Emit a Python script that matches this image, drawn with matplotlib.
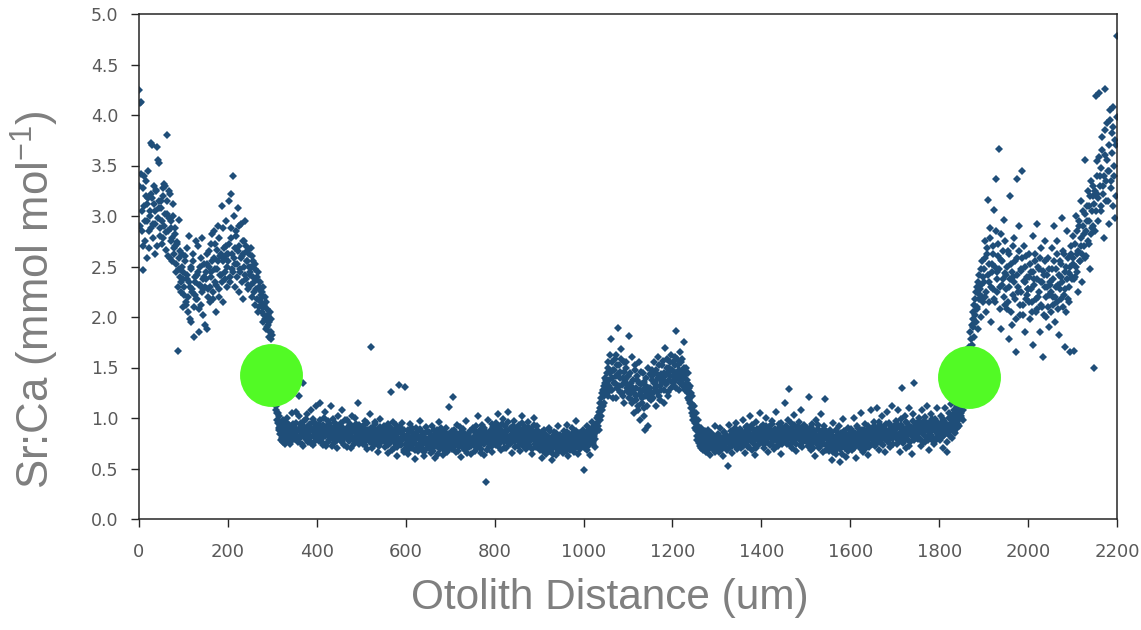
import matplotlib
matplotlib.use("Agg")
import matplotlib.pyplot as plt
import numpy as np

# ---------------- data ----------------
sample_spacing_um = 2  # laser transect sample spacing; two interleaved passes
# pass A: samples at 0, 2, 4, ... 2200 um
sr_ca_a = [
    4.25, 4.12, 3.42, 2.85, 3.28, 2.47, 3.10, 2.75, 3.35, 2.95, 3.18, 2.68, 3.05, 2.88, 3.22, 3.70, 2.92, 3.12, 2.62, 3.25, 3.68, 2.98, 3.15, 3.52, 2.80,
    3.08, 2.72, 3.28, 2.90, 3.30, 2.66, 3.02, 3.80, 2.85, 3.25, 2.58, 2.95, 2.78, 3.12, 2.62, 2.70, 2.88, 2.52, 2.74, 1.66, 2.96, 2.40, 2.35, 2.62, 2.10,
    2.45, 2.22, 2.60, 2.15, 2.38, 2.05, 2.80, 2.30, 2.48, 1.95, 2.25, 2.55, 1.80, 2.35, 2.18, 2.42, 2.70, 2.08, 2.32, 2.50, 2.12, 2.78, 2.28, 2.40, 1.92,
    2.38, 1.88, 2.52, 2.20, 2.65, 2.30, 2.45, 2.82, 2.18, 2.58, 2.35, 2.72, 2.05, 2.48, 2.90, 2.28, 2.60, 2.42, 3.10, 2.55, 2.15, 2.68, 2.38, 2.95, 2.50,
    2.62, 3.15, 2.40, 2.78, 3.22, 2.48, 3.40, 2.58, 2.30, 2.85, 2.52, 3.08, 2.25, 2.70, 2.45, 2.92, 2.60, 2.18, 2.75, 2.95, 2.38, 2.55, 2.65, 2.28, 2.50,
    2.42, 2.68, 2.20, 2.55, 2.35, 2.12, 2.48, 2.28, 2.40, 2.05, 2.30, 2.18, 2.15, 2.25, 1.95, 2.10, 2.02, 2.20, 1.88, 2.00, 1.92, 1.80, 2.05, 1.85, 1.78,
    1.55, 1.45, 1.30, 1.20, 1.12, 1.05, 0.95, 1.02, 0.88, 0.92, 0.78, 0.85, 0.98, 0.82, 0.74, 0.90, 0.86, 1.00, 0.80, 0.93, 0.76, 0.88, 1.05, 0.84, 0.79,
    0.90, 0.84, 1.06, 0.78, 0.88, 1.22, 0.82, 0.95, 0.74, 0.86, 1.35, 0.91, 0.80, 0.99, 0.85, 0.76, 0.93, 0.87, 1.08, 0.81, 0.89, 0.73, 0.96, 0.84, 1.12,
    0.88, 0.79, 0.94, 0.83, 1.15, 0.90, 0.76, 0.86, 1.00, 0.82, 0.72, 0.92, 0.85, 0.97, 0.78, 0.89, 1.12, 0.80, 0.87, 0.75, 0.95, 0.84, 0.91, 0.70, 1.02,
    0.86, 0.93, 0.77, 1.08, 0.84, 0.90, 0.73, 0.88, 0.81, 0.98, 0.79, 0.87, 0.92, 0.70, 0.85, 1.02, 0.80, 0.89, 0.76, 0.94, 0.83, 1.15, 0.88, 0.74, 0.82,
    0.80, 0.91, 0.74, 0.86, 0.97, 0.78, 0.84, 0.69, 0.88, 0.82, 1.04, 1.70, 0.77, 0.90, 0.73, 0.85, 0.94, 0.79, 0.87, 0.66, 0.83, 0.99, 0.76, 0.89, 0.81,
    0.78, 0.92, 0.71, 0.84, 0.88, 0.65, 0.81, 0.75, 1.26, 0.86, 0.79, 0.96, 0.70, 0.83, 0.90, 0.62, 0.80, 1.33, 0.77, 0.87, 0.73, 0.95, 0.82, 0.68, 1.31,
    0.79, 0.72, 0.88, 0.64, 0.81, 0.94, 0.75, 0.70, 0.85, 0.78, 0.59, 0.90, 0.74, 0.83, 0.67, 0.80, 0.97, 0.72, 0.86, 0.76, 0.62, 0.84, 0.79, 0.91, 0.70,
    0.73, 0.86, 0.78, 0.65, 0.92, 0.77, 0.71, 0.83, 0.60, 0.80, 0.88, 0.74, 0.96, 0.69, 0.79, 0.85, 0.72, 0.63, 0.82, 0.76, 0.90, 0.68, 0.81, 0.75, 1.11,
    0.78, 0.70, 0.87, 1.21, 0.74, 0.83, 0.66, 0.80, 0.93, 0.76, 0.72, 0.85, 0.61, 0.79, 0.89, 0.73, 0.82, 0.68, 0.97, 0.77, 0.84, 0.71, 0.80, 0.64, 0.88,
    0.75, 0.90, 0.81, 0.67, 0.86, 0.79, 1.02, 0.72, 0.84, 0.77, 0.69, 0.93, 0.80, 0.63, 0.87, 0.37, 0.76, 0.83, 0.98, 0.71, 0.85, 0.78, 0.66, 0.91, 0.74,
    0.82, 0.95, 0.73, 0.86, 1.04, 0.78, 0.89, 0.68, 0.84, 0.99, 0.76, 0.81, 0.92, 0.70, 0.87, 1.06, 0.79, 0.74, 0.90, 0.83, 0.65, 0.88, 0.97, 0.77, 0.85,
    0.80, 0.72, 0.93, 0.84, 0.67, 0.88, 1.02, 0.76, 0.82, 0.91, 0.69, 0.86, 0.78, 0.96, 0.73, 0.83, 0.89, 0.64, 0.81, 1.00, 0.77, 0.85, 0.71, 0.92, 0.79,
    0.75, 0.68, 0.84, 0.60, 0.79, 0.88, 0.71, 0.77, 0.64, 0.82, 0.73, 0.90, 0.67, 0.78, 0.58, 0.81, 0.70, 0.86, 0.74, 0.63, 0.79, 0.92, 0.69, 0.76, 0.83,
    0.72, 0.80, 0.65, 0.87, 0.76, 0.70, 0.93, 0.62, 0.78, 0.84, 0.68, 0.74, 0.90, 0.79, 0.66, 0.82, 0.73, 0.97, 0.77, 0.64, 0.85, 0.71, 0.80, 0.75, 0.88,
    0.78, 0.49, 0.70, 0.85, 0.92, 0.74, 0.82, 0.63, 0.88, 0.79, 0.96, 0.76, 0.84, 0.71, 0.90, 0.95, 1.02, 0.88, 1.10, 0.98, 1.20, 1.08, 1.28, 1.15, 1.35,
    1.30, 1.45, 1.22, 1.55, 1.38, 1.62, 1.78, 1.28, 1.48, 1.35, 1.58, 1.20, 1.42, 1.52, 1.89, 1.32, 1.46, 1.68, 1.25, 1.40, 1.55, 1.15, 1.36, 1.50, 1.27,
    1.42, 1.81, 1.24, 1.35, 1.60, 1.18, 1.30, 1.05, 1.48, 1.22, 1.38, 1.12, 1.55, 1.28, 0.98, 1.34, 1.20, 1.45, 1.10, 0.88, 1.32, 1.25, 1.50, 0.92, 1.27,
    1.30, 1.18, 1.42, 1.25, 1.55, 1.36, 1.12, 1.48, 1.32, 1.60, 1.22, 1.40, 1.28, 1.52, 1.38, 1.15, 1.45, 1.69, 1.34, 1.58, 1.26, 1.50, 1.42, 1.62, 1.36,
    1.48, 1.55, 1.32, 1.60, 1.86, 1.40, 1.52, 1.28, 1.65, 1.44, 1.36, 1.58, 1.42, 1.75, 1.30, 1.50, 1.38, 1.25, 1.45, 1.18, 1.32, 1.10, 1.22, 1.02, 1.12,
    0.95, 1.05, 0.88, 0.78, 0.98, 0.82, 0.72, 0.90, 0.76, 0.68, 0.85, 0.74, 0.80, 0.66, 0.77, 0.88, 0.71, 0.63, 0.79, 0.73, 0.84, 0.69, 0.76, 0.92, 0.70,
    0.72, 0.84, 0.66, 0.79, 0.90, 0.70, 0.76, 0.62, 0.86, 0.74, 0.81, 0.68, 0.52, 0.78, 0.93, 0.71, 0.83, 0.65, 0.77, 0.88, 0.73, 0.80, 0.95, 0.69, 0.82,
    0.76, 0.89, 0.70, 0.84, 0.98, 0.74, 0.81, 0.65, 0.87, 0.92, 0.72, 0.79, 1.02, 0.83, 0.68, 0.90, 0.77, 0.85, 0.63, 0.96, 0.80, 0.73, 0.88, 1.05, 0.78,
    0.84, 0.76, 0.93, 0.70, 0.88, 1.00, 0.79, 0.86, 0.66, 0.91, 0.81, 0.74, 0.97, 0.85, 0.69, 0.89, 0.78, 1.06, 0.83, 0.72, 0.94, 0.87, 0.64, 0.80, 0.90,
    0.86, 0.79, 1.15, 0.92, 0.74, 0.84, 1.29, 0.81, 0.95, 0.70, 0.88, 0.77, 1.03, 0.85, 0.67, 0.91, 0.80, 0.96, 0.73, 0.87, 1.08, 0.82, 0.76, 0.93, 0.84,
    0.78, 0.90, 0.72, 0.85, 1.21, 0.81, 0.68, 0.94, 0.76, 0.87, 0.62, 0.83, 0.98, 0.74, 0.89, 0.70, 0.80, 1.04, 0.77, 0.66, 0.92, 0.84, 1.19, 0.73, 0.86,
    0.79, 0.67, 0.88, 0.74, 0.58, 0.83, 0.95, 0.71, 0.80, 0.64, 0.86, 0.76, 0.92, 0.69, 0.56, 0.82, 0.75, 0.99, 0.72, 0.85, 0.61, 0.78, 0.90, 0.70, 0.81,
    0.76, 0.89, 0.68, 0.84, 1.00, 0.73, 0.81, 0.60, 0.92, 0.79, 0.86, 0.71, 1.05, 0.83, 0.66, 0.88, 0.77, 0.94, 0.70, 0.85, 0.63, 0.90, 0.80, 1.08, 0.74,
    0.88, 0.79, 0.96, 0.72, 0.90, 1.10, 0.83, 0.68, 0.93, 0.86, 0.75, 1.02, 0.81, 0.91, 0.66, 0.87, 1.06, 0.78, 0.95, 0.84, 0.71, 0.89, 1.12, 0.80, 0.92,
    0.85, 0.97, 0.74, 0.90, 1.08, 0.81, 0.66, 0.93, 1.30, 0.86, 0.78, 1.02, 0.89, 0.70, 0.95, 0.83, 1.10, 0.76, 0.91, 0.64, 0.88, 1.04, 1.35, 0.82, 0.94,
    0.87, 0.79, 1.00, 0.93, 0.72, 0.90, 1.08, 0.84, 0.97, 0.76, 0.89, 1.12, 0.82, 0.68, 0.95, 0.86, 1.04, 0.78, 0.92, 0.74, 0.99, 0.88, 1.10, 0.81, 0.94,
    0.92, 0.78, 1.02, 0.86, 0.70, 0.97, 1.10, 0.84, 0.94, 0.66, 0.90, 1.05, 0.88, 1.14, 0.80, 0.98, 0.92, 1.08, 0.85, 1.00, 1.12, 0.94, 1.06, 1.18, 1.02,
    1.05, 1.20, 0.98, 1.28, 1.40, 1.15, 1.50, 1.62, 1.35, 1.70, 1.85, 1.58, 1.92, 2.05, 1.80, 2.18, 1.95, 2.30, 2.10, 1.88, 2.42, 2.22, 2.00, 2.55, 2.15,
    2.48, 2.20, 2.75, 2.05, 2.62, 3.16, 2.35, 2.88, 1.95, 2.52, 2.28, 2.70, 3.06, 2.15, 3.37, 2.45, 2.60, 3.66, 2.30, 2.82, 1.88, 2.55, 2.38, 2.96, 2.12,
    2.42, 2.08, 2.65, 1.78, 2.30, 3.20, 2.52, 1.92, 2.40, 2.78, 2.18, 1.65, 2.58, 3.37, 2.25, 2.90, 2.02, 2.46, 3.45, 2.12, 2.70, 1.85, 2.35, 2.60, 2.22,
    2.28, 2.62, 1.98, 2.45, 2.15, 2.80, 1.72, 2.38, 2.55, 2.05, 2.92, 2.20, 2.48, 1.85, 2.35, 2.68, 2.10, 1.60, 2.42, 2.75, 2.00, 2.30, 2.58, 1.90, 2.22,
    2.35, 2.05, 2.68, 2.20, 2.90, 1.95, 2.48, 2.15, 2.75, 2.32, 1.82, 2.55, 2.40, 2.98, 2.10, 2.62, 2.28, 1.70, 2.50, 2.85, 2.18, 2.44, 1.65, 2.70, 2.38,
    2.52, 2.80, 1.66, 2.40, 3.00, 2.62, 2.25, 2.90, 2.55, 3.15, 2.70, 2.35, 3.05, 2.82, 3.55, 2.60, 2.95, 3.25, 2.72, 3.10, 2.48, 3.35, 2.88, 3.20, 1.50,
    2.85, 4.19, 3.22, 3.54, 2.95, 4.22, 3.40, 3.05, 3.78, 3.30, 2.78, 3.60, 4.26, 3.15, 3.92, 3.45, 2.92, 4.05, 3.35, 3.82, 3.10, 4.08, 3.50, 2.98, 3.70,
    4.78,
]
# pass B: samples at 1, 3, 5, ... 2199 um
sr_ca_b = [
    3.30, 2.90, 4.13, 3.05, 2.70, 3.40, 2.95, 3.20, 2.58, 3.12, 3.45, 2.85, 3.00, 3.72, 3.18, 2.78, 3.30, 3.05, 2.92, 3.26, 2.70, 3.55, 3.08, 2.88, 3.15,
    2.95, 3.20, 2.78, 3.32, 3.02, 2.84, 3.15, 2.60, 2.98, 3.22, 2.75, 2.88, 2.55, 3.00, 2.68, 2.82, 2.45, 2.72, 2.30, 2.58, 2.48, 2.65, 2.25, 2.50, 2.38,
    2.30, 2.55, 2.12, 2.42, 2.68, 2.20, 2.35, 1.98, 2.50, 2.28, 2.62, 2.10, 2.40, 2.22, 2.75, 2.18, 2.45, 1.85, 2.32, 2.58, 2.25, 2.38, 2.02, 2.52, 2.30,
    2.45, 2.62, 2.28, 2.50, 2.15, 2.72, 2.40, 2.55, 2.25, 2.85, 2.48, 2.32, 2.66, 2.55, 2.20, 2.78, 2.42, 2.62, 2.35, 2.88, 2.58, 2.45, 2.70, 2.30, 2.62,
    2.55, 2.72, 2.35, 2.88, 2.62, 2.45, 3.00, 2.68, 2.52, 2.80, 2.40, 2.65, 2.90, 2.48, 2.58, 2.35, 2.75, 2.62, 2.50, 2.42, 2.70, 2.55, 2.32, 2.62, 2.45,
    2.50, 2.32, 2.60, 2.40, 2.25, 2.52, 2.38, 2.18, 2.45, 2.28, 2.10, 2.35, 2.22, 2.05, 2.30, 2.12, 1.98, 2.15, 2.08, 1.90, 2.02, 1.95, 1.85, 1.98, 1.82,
    1.50, 1.38, 1.25, 1.15, 1.08, 0.98, 1.05, 0.90, 0.84, 0.96, 0.80, 0.88, 0.76, 0.92, 0.85, 0.78, 0.95, 0.82, 0.88, 0.74, 0.91, 0.83, 0.79, 0.94, 0.86,
    0.82, 0.95, 0.87, 0.76, 1.02, 0.89, 0.80, 0.93, 0.85, 0.72, 0.97, 0.83, 0.90, 0.78, 1.04, 0.86, 0.81, 0.94, 0.75, 0.88, 0.99, 0.82, 0.91, 0.77, 0.86,
    0.84, 0.91, 0.77, 0.98, 0.86, 0.80, 0.93, 0.73, 0.89, 1.06, 0.83, 0.88, 0.76, 0.95, 0.81, 0.91, 0.85, 0.72, 0.99, 0.87, 0.80, 0.93, 0.78, 0.88, 0.84,
    0.81, 0.89, 0.95, 0.76, 0.86, 0.80, 0.98, 0.84, 0.71, 0.90, 0.83, 0.77, 0.94, 0.87, 0.80, 0.91, 0.74, 0.86, 1.00, 0.82, 0.88, 0.78, 0.93, 0.85, 0.76,
    0.85, 0.78, 0.92, 0.82, 0.73, 0.88, 0.95, 0.80, 0.86, 0.76, 0.90, 0.83, 0.70, 0.87, 0.81, 0.96, 0.75, 0.84, 0.89, 0.79, 0.72, 0.91, 0.85, 0.77, 0.88,
    0.83, 0.76, 0.89, 0.80, 0.94, 0.73, 0.85, 0.78, 0.90, 0.68, 0.82, 0.87, 0.75, 0.93, 0.80, 0.71, 0.86, 0.78, 0.91, 0.74, 0.84, 0.79, 0.66, 0.88, 0.81,
    0.74, 0.83, 0.77, 0.69, 0.87, 0.80, 0.73, 0.90, 0.76, 0.84, 0.68, 0.79, 0.86, 0.72, 0.81, 0.75, 0.89, 0.70, 0.78, 0.83, 0.66, 0.80, 0.74, 0.87, 0.77,
    0.79, 0.70, 0.84, 0.75, 0.81, 0.67, 0.88, 0.76, 0.72, 0.85, 0.78, 0.64, 0.82, 0.74, 0.90, 0.77, 0.69, 0.80, 0.86, 0.73, 0.79, 0.66, 0.84, 0.78, 0.71,
    0.75, 0.82, 0.69, 0.79, 0.88, 0.72, 0.77, 0.84, 0.67, 0.80, 0.75, 0.91, 0.73, 0.78, 0.70, 0.85, 0.76, 0.81, 0.65, 0.83, 0.74, 0.79, 0.87, 0.72, 0.78,
    0.80, 0.73, 0.86, 0.77, 0.92, 0.70, 0.82, 0.76, 0.88, 0.65, 0.79, 0.84, 0.74, 0.90, 0.78, 0.83, 0.68, 0.81, 0.75, 0.87, 0.80, 0.72, 0.94, 0.79, 0.84,
    0.78, 0.87, 0.82, 0.72, 0.91, 0.80, 0.75, 0.86, 0.94, 0.79, 0.70, 0.84, 0.88, 0.77, 0.96, 0.81, 0.74, 0.89, 0.83, 0.76, 0.92, 0.80, 0.71, 0.86, 0.90,
    0.84, 0.78, 0.89, 0.74, 0.82, 0.95, 0.79, 0.86, 0.71, 0.88, 0.80, 0.75, 0.91, 0.83, 0.77, 0.85, 0.69, 0.87, 0.81, 0.93, 0.74, 0.80, 0.88, 0.76, 0.84,
    0.71, 0.80, 0.74, 0.86, 0.67, 0.78, 0.73, 0.83, 0.76, 0.69, 0.81, 0.75, 0.87, 0.72, 0.79, 0.64, 0.77, 0.82, 0.70, 0.85, 0.74, 0.66, 0.80, 0.73, 0.78,
    0.77, 0.69, 0.83, 0.74, 0.80, 0.67, 0.86, 0.72, 0.76, 0.81, 0.70, 0.84, 0.75, 0.68, 0.79, 0.73, 0.87, 0.71, 0.82, 0.76, 0.69, 0.80, 0.74, 0.85, 0.78,
    0.72, 0.81, 0.76, 0.68, 0.87, 0.79, 0.73, 0.84, 0.77, 0.90, 0.74, 0.82, 0.79, 0.93, 0.86, 1.00, 0.92, 1.06, 1.15, 1.02, 1.25, 1.12, 1.32, 1.22, 1.40,
    1.38, 1.25, 1.50, 1.32, 1.45, 1.28, 1.55, 1.40, 1.20, 1.48, 1.35, 1.62, 1.30, 1.44, 1.52, 1.26, 1.40, 1.58, 1.33, 1.22, 1.46, 1.38, 1.55, 1.30, 1.42,
    1.32, 1.20, 1.45, 1.28, 1.15, 1.38, 1.25, 1.52, 1.18, 1.30, 1.42, 1.08, 1.35, 1.24, 1.46, 1.15, 1.28, 1.02, 1.36, 1.22, 1.40, 1.12, 1.30, 1.20, 1.44,
    1.25, 1.38, 1.48, 1.20, 1.35, 1.30, 1.45, 1.26, 1.40, 1.52, 1.32, 1.18, 1.44, 1.36, 1.56, 1.28, 1.42, 1.34, 1.50, 1.22, 1.46, 1.38, 1.55, 1.30, 1.48,
    1.42, 1.36, 1.52, 1.45, 1.30, 1.58, 1.40, 1.48, 1.35, 1.55, 1.46, 1.32, 1.50, 1.40, 1.28, 1.44, 1.35, 1.20, 1.30, 1.15, 1.25, 1.05, 1.14, 0.98, 1.06,
    0.90, 0.99, 0.82, 0.92, 0.75, 0.86, 0.80, 0.70, 0.83, 0.74, 0.79, 0.87, 0.72, 0.76, 0.82, 0.68, 0.78, 0.73, 0.85, 0.70, 0.77, 0.81, 0.66, 0.74, 0.79,
    0.78, 0.70, 0.82, 0.75, 0.68, 0.80, 0.73, 0.86, 0.77, 0.71, 0.83, 0.76, 0.69, 0.81, 0.74, 0.87, 0.78, 0.72, 0.84, 0.76, 0.90, 0.79, 0.73, 0.85, 0.77,
    0.82, 0.75, 0.87, 0.79, 0.72, 0.85, 0.80, 0.91, 0.76, 0.83, 0.71, 0.88, 0.81, 0.77, 0.93, 0.79, 0.74, 0.86, 0.82, 0.70, 0.89, 0.78, 0.84, 0.75, 0.91,
    0.80, 0.88, 0.74, 0.85, 0.79, 0.92, 0.76, 0.83, 0.89, 0.73, 0.86, 0.80, 0.94, 0.77, 0.84, 0.71, 0.87, 0.82, 0.76, 0.90, 0.79, 0.85, 0.95, 0.74, 0.83,
    0.81, 0.89, 0.76, 0.84, 0.98, 0.79, 0.87, 0.73, 0.90, 0.82, 0.77, 0.93, 0.86, 0.80, 0.74, 0.88, 0.83, 0.91, 0.78, 0.85, 0.71, 0.89, 0.80, 0.86, 0.79,
    0.83, 0.76, 0.88, 0.80, 0.73, 0.91, 0.78, 0.85, 0.70, 0.82, 0.87, 0.75, 0.80, 0.93, 0.77, 0.84, 0.72, 0.86, 0.79, 0.74, 0.89, 0.81, 0.68, 0.83, 0.78,
    0.74, 0.82, 0.70, 0.86, 0.77, 0.66, 0.80, 0.73, 0.88, 0.76, 0.69, 0.83, 0.78, 0.72, 0.85, 0.64, 0.79, 0.74, 0.87, 0.70, 0.81, 0.76, 0.67, 0.84, 0.75,
    0.81, 0.73, 0.87, 0.78, 0.70, 0.85, 0.80, 0.75, 0.90, 0.72, 0.83, 0.77, 0.69, 0.88, 0.79, 0.74, 0.86, 0.81, 0.76, 0.92, 0.78, 0.71, 0.84, 0.80, 0.87,
    0.83, 0.92, 0.78, 0.86, 0.75, 0.89, 0.81, 0.96, 0.77, 0.85, 0.90, 0.73, 0.87, 0.82, 0.79, 0.94, 0.84, 0.76, 0.88, 0.93, 0.80, 0.86, 0.74, 0.91, 0.83,
    0.88, 0.80, 0.94, 0.83, 0.77, 0.91, 0.86, 0.99, 0.81, 0.75, 0.89, 0.84, 0.96, 0.79, 0.87, 0.92, 0.72, 0.85, 0.90, 0.82, 0.97, 0.78, 0.86, 0.93, 0.80,
    0.91, 0.84, 0.97, 0.79, 0.88, 0.93, 0.76, 0.86, 1.01, 0.82, 0.90, 0.95, 0.78, 0.87, 0.92, 0.83, 0.99, 0.80, 0.89, 0.94, 0.77, 0.86, 0.96, 0.84, 0.90,
    0.86, 0.95, 0.80, 0.91, 0.99, 0.83, 0.88, 0.94, 0.76, 0.92, 0.86, 1.00, 0.82, 0.95, 0.89, 1.03, 0.87, 0.93, 1.06, 0.90, 0.97, 1.02, 0.92, 1.08, 1.00,
    1.12, 1.08, 1.25, 1.18, 1.32, 1.45, 1.38, 1.55, 1.48, 1.65, 1.78, 1.72, 1.90, 1.98, 2.12, 2.02, 2.25, 2.08, 2.35, 2.18, 2.28, 2.48, 2.32, 2.20, 2.40,
    2.35, 2.58, 2.25, 2.68, 2.42, 2.15, 2.52, 2.78, 2.30, 2.45, 2.62, 2.18, 2.50, 2.85, 2.38, 2.25, 2.72, 2.48, 2.08, 2.56, 2.32, 2.65, 2.20, 2.44, 2.75,
    2.28, 2.50, 2.15, 2.62, 2.38, 2.05, 2.45, 2.70, 2.22, 2.35, 2.55, 1.98, 2.42, 2.30, 2.65, 2.12, 2.48, 2.25, 2.58, 2.02, 2.36, 2.50, 2.18, 2.40, 2.28,
    2.40, 2.15, 2.52, 2.28, 2.05, 2.45, 2.32, 2.62, 2.18, 2.38, 2.08, 2.50, 2.25, 2.58, 2.12, 2.35, 2.46, 2.02, 2.30, 2.55, 2.20, 2.42, 2.10, 2.48, 2.32,
    2.25, 2.48, 2.12, 2.38, 2.55, 2.20, 2.30, 2.62, 2.08, 2.42, 2.28, 2.52, 2.18, 2.35, 2.65, 2.22, 2.45, 2.05, 2.38, 2.58, 2.30, 2.15, 2.50, 2.62, 2.40,
    2.58, 2.38, 2.72, 2.50, 2.85, 2.45, 2.65, 2.95, 2.55, 2.78, 2.62, 2.90, 2.70, 3.02, 2.58, 2.85, 3.10, 2.75, 2.95, 3.20, 2.82, 3.05, 3.30, 2.90, 3.12,
    3.25, 3.05, 3.40, 3.18, 3.58, 3.30, 3.10, 3.48, 3.65, 3.22, 3.40, 3.85, 3.35, 3.55, 3.15, 3.70, 3.45, 3.95, 3.28, 3.62, 3.88, 3.40, 3.75, 3.20, 3.98,
]
distance_a_um = np.arange(len(sr_ca_a)) * sample_spacing_um
distance_b_um = np.arange(len(sr_ca_b)) * sample_spacing_um + 1

# highlighted transition points (green circles)
marker_x = [297, 1867]
marker_y = [1.43, 1.41]

x_ticks = list(range(0, 2201, 200))
y_ticks = [0.0, 0.5, 1.0, 1.5, 2.0, 2.5, 3.0, 3.5, 4.0, 4.5, 5.0]

# ---------------- figure ----------------
W, H = 1141, 630
fig = plt.figure(figsize=(W / 100, H / 100), dpi=100)
ax = fig.add_axes([139 / W, 1 - 519 / H, (1117 - 139) / W, (519 - 14) / H])

ax.plot(distance_a_um, sr_ca_a, linestyle="none", marker="D", markersize=4.3,
        color="#1f4e79", markeredgewidth=0, zorder=2)
ax.plot(distance_b_um, sr_ca_b, linestyle="none", marker="D", markersize=4.3,
        color="#1f4e79", markeredgewidth=0, zorder=2)
ax.scatter(marker_x, marker_y, s=2050, color="#52fa25", linewidths=0, zorder=3)

ax.set_xlim(0, 2200)
ax.set_ylim(0, 5.0)
ax.set_xticks(x_ticks)
ax.set_yticks(y_ticks)
ax.set_yticklabels([f"{v:.1f}" for v in y_ticks], fontsize=12.5,
                   color="#595959", family="DejaVu Sans")
ax.set_xticklabels([str(v) for v in x_ticks], fontsize=13, color="#595959",
                   family="DejaVu Sans")
ax.tick_params(axis="both", direction="out", length=6, width=1.0, color="#262626")
ax.tick_params(axis="y", pad=9)
ax.tick_params(axis="x", pad=11)
for s in ax.spines.values():
    s.set_color("#262626")
    s.set_linewidth(1.1)

fig.text(610 / W, 1 - 598 / H, "Otolith Distance (um)", fontsize=30.5,
         color="#7f7f7f", ha="center", va="center", family="Liberation Sans")
fig.text(35 / W, 1 - 300 / H, r"Sr:Ca (mmol mol$\mathregular{^{-1}}$)",
         fontsize=31.5, color="#7f7f7f", family="Liberation Sans",
         rotation=90, ha="center", va="center")

fig.savefig("out.png", dpi=100)
